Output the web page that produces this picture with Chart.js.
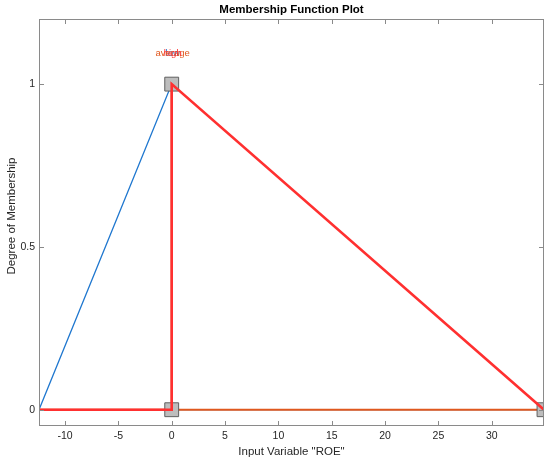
<!DOCTYPE html>
<html lang="en">
<head>
  <meta charset="UTF-8">
  <title>Membership Function Plot</title>
  <script src="https://cdn.jsdelivr.net/npm/chart.js"></script>
  <style>
    html, body {
      margin: 0;
      padding: 0;
      background: #fff;
    }
    #wrap {
      width: 550px;
      height: 462px;
    }
  </style>
</head>
<body>
  <div id="wrap"><canvas id="mfChart"></canvas></div>

  <script>
    // input range and ticks
    const xRange = [-12.44, 34.9];
    const yRange = [-0.05, 1.2];
    const xTicks = [-10, -5, 0, 5, 10, 15, 20, 25, 30];
    const yTicks = [0, 0.5, 1];

    // membership functions (sampled at their vertices)
    const mfNames = ['low', 'average', 'high'];
    const lowX = [-12.44, 0, 0, 34.9];
    const lowY = [0, 1, 0, 0];
    const avgX = [-12.44, 0, 0, 0, 34.9];
    const avgY = [0, 0, 1, 0, 0];
    const highX = [-12.44, 0, 0, 34.9];
    const highY = [0, 0, 1, 0];

    // label positions (above each peak)
    const labelX = [0, 0, 0];
    const labelY = [1.1, 1.1, 1.1];

    // vertices of the selected MF (high)
    const handleX = [0, 0, 34.9];
    const handleY = [0, 1, 0];

    const mfColors = ['#1f77cf', '#e0581e', '#ff3030'];

    function toPoints(xs, ys) {
      return xs.map((x, i) => ({ x: x, y: ys[i] }));
    }

    const FONT = 'Arial, "Liberation Sans", Helvetica, sans-serif';

    // MATLAB-like box, inner ticks, titles and MF names
    const decor = {
      id: 'decor',
      afterDatasetsDraw(chart) {
        const ctx = chart.ctx;
        const xs = chart.scales.x, ys = chart.scales.y;

        // MF labels
        ctx.save();
        ctx.font = '9.5px ' + FONT;
        ctx.textAlign = 'center';
        ctx.textBaseline = 'middle';
        mfNames.forEach((name, i) => {
          ctx.fillStyle = mfColors[i];
          ctx.fillText(name, xs.getPixelForValue(labelX[i]) + 1, ys.getPixelForValue(labelY[i]) + 2);
        });
        ctx.restore();
      },
      afterDraw(chart) {
        const ctx = chart.ctx;
        const a = chart.chartArea;
        const xs = chart.scales.x, ys = chart.scales.y;
        const tl = 5;

        ctx.save();
        ctx.strokeStyle = '#8a8a8a';
        ctx.lineWidth = 1;
        ctx.strokeRect(Math.round(a.left) + 0.5, Math.round(a.top) + 0.5,
          Math.round(a.right - a.left) - 1, Math.round(a.bottom - a.top) - 1);

        ctx.beginPath();
        xTicks.forEach(v => {
          const px = Math.round(xs.getPixelForValue(v)) + 0.5;
          ctx.moveTo(px, a.bottom);
          ctx.lineTo(px, a.bottom - tl);
          ctx.moveTo(px, a.top);
          ctx.lineTo(px, a.top + tl);
        });
        yTicks.forEach(v => {
          const py = Math.round(ys.getPixelForValue(v)) + 0.5;
          ctx.moveTo(a.left, py);
          ctx.lineTo(a.left + tl, py);
          ctx.moveTo(a.right, py);
          ctx.lineTo(a.right - tl, py);
        });
        ctx.stroke();

        // titles
        ctx.fillStyle = '#000';
        ctx.textAlign = 'center';
        ctx.textBaseline = 'middle';
        ctx.font = 'bold 11.5px ' + FONT;
        ctx.fillText('Membership Function Plot', (a.left + a.right) / 2, 10);

        ctx.fillStyle = '#262626';
        ctx.font = '11.5px ' + FONT;
        ctx.fillText('Input Variable "ROE"', (a.left + a.right) / 2, 452);

        ctx.translate(12, 216);
        ctx.rotate(-Math.PI / 2);
        ctx.fillText('Degree of Membership', 0, 0);
        ctx.restore();
      }
    };

    const ctx = document.getElementById('mfChart').getContext('2d');

    new Chart(ctx, {
      type: 'scatter',
      data: {
        datasets: [
          {
            label: mfNames[0],
            data: toPoints(lowX, lowY),
            showLine: true,
            borderColor: mfColors[0],
            borderWidth: 1.3,
            pointRadius: 0,
            order: 4
          },
          {
            label: mfNames[1],
            data: toPoints(avgX, avgY),
            showLine: true,
            borderColor: mfColors[1],
            borderWidth: 2,
            pointRadius: 0,
            order: 3
          },
          {
            label: 'handles',
            data: toPoints(handleX, handleY),
            showLine: false,
            pointStyle: 'rect',
            pointRadius: 9.8,
            pointBackgroundColor: '#bdbdbd',
            pointBorderColor: '#606060',
            pointBorderWidth: 1,
            order: 2
          },
          {
            label: mfNames[2],
            data: toPoints(highX, highY),
            showLine: true,
            borderColor: mfColors[2],
            borderWidth: 2.6,
            pointRadius: 0,
            order: 1
          }
        ]
      },
      options: {
        responsive: true,
        maintainAspectRatio: false,
        animation: false,
        events: [],
        layout: {
          autoPadding: false,
          padding: { top: 19, right: 6, left: 0, bottom: 0 }
        },
        plugins: {
          legend: { display: false },
          tooltip: { enabled: false },
          title: { display: false }
        },
        scales: {
          x: {
            type: 'linear',
            min: xRange[0],
            max: xRange[1],
            afterBuildTicks: s => { s.ticks = xTicks.map(v => ({ value: v })); },
            afterFit: s => { s.height = 36; s.paddingLeft = 0; s.paddingRight = 0; },
            grid: { display: false, drawTicks: false },
            border: { display: false },
            ticks: {
              padding: 4,
              color: '#262626',
              font: { family: FONT, size: 10.5 }
            }
          },
          y: {
            type: 'linear',
            min: yRange[0],
            max: yRange[1],
            afterBuildTicks: s => { s.ticks = yTicks.map(v => ({ value: v })); },
            afterFit: s => { s.width = 39; s.paddingTop = 0; s.paddingBottom = 0; },
            grid: { display: false, drawTicks: false },
            border: { display: false },
            ticks: {
              padding: 4,
              color: '#262626',
              font: { family: FONT, size: 10.5 },
              callback: v => String(v)
            }
          }
        }
      },
      plugins: [decor]
    });
  </script>
</body>
</html>
